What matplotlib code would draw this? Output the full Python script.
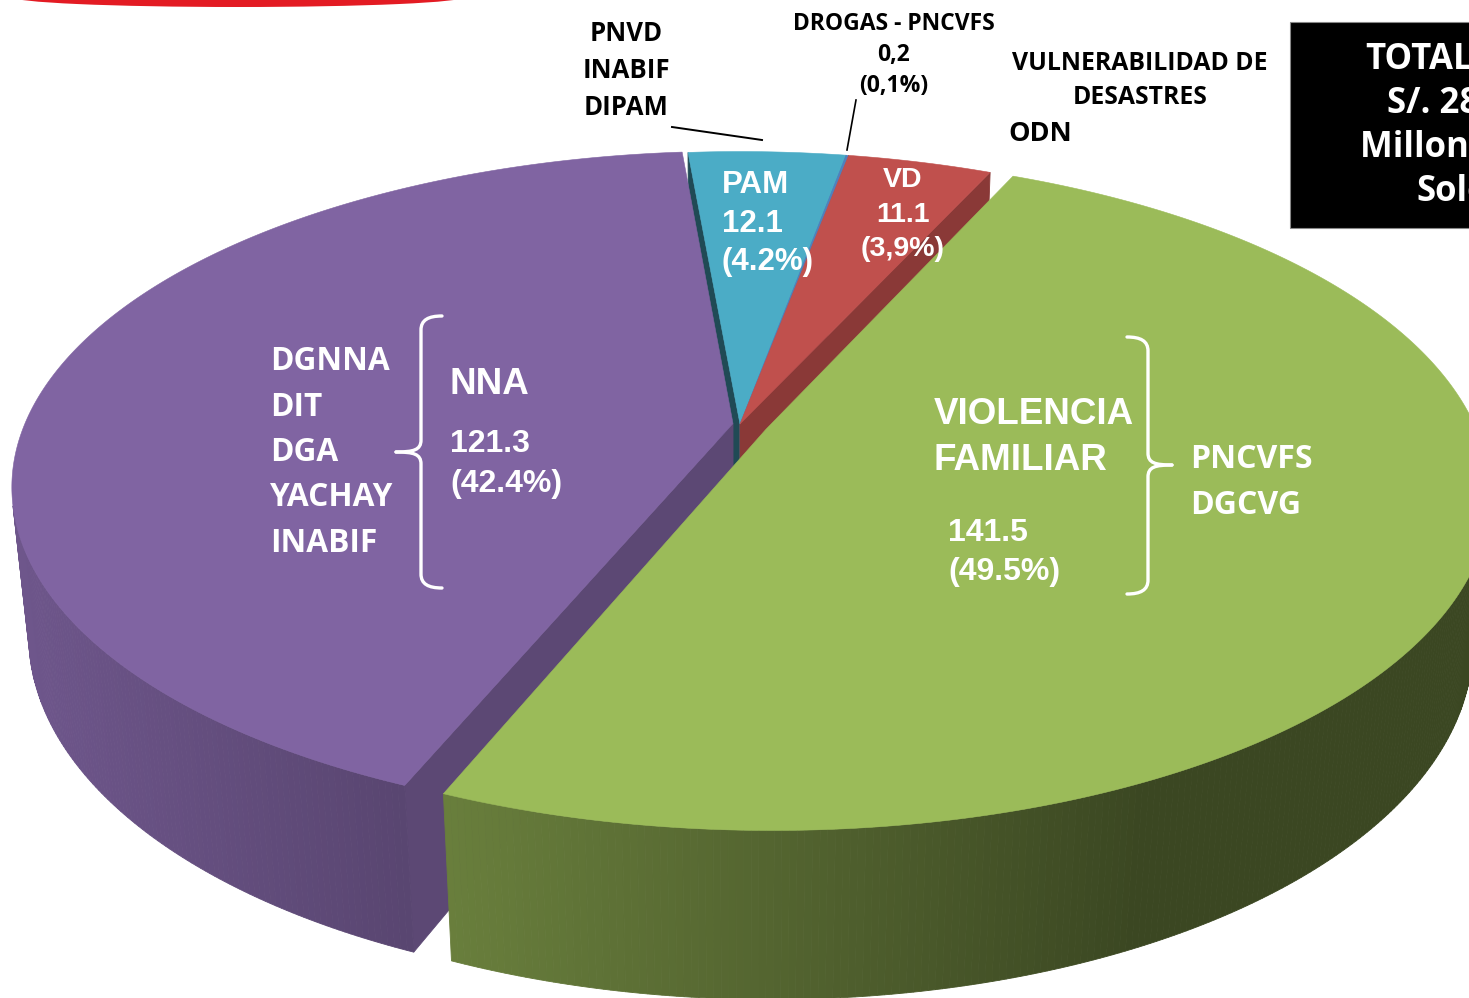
import numpy as np
import matplotlib
matplotlib.use("Agg")
import matplotlib.pyplot as plt
from matplotlib.patches import Polygon, Ellipse, Rectangle, PathPatch
from matplotlib.path import Path
from matplotlib.colors import to_rgb

# data (order = clockwise, NNA ends where PAM begins)
names = ["NNA", "PAM", "DROGAS - PNCVFS", "VD", "VIOLENCIA\nFAMILIAR"]
values = [121.3, 12.1, 0.2, 11.1, 141.5]
pct_labels = ["(42.4%)", "(4.2%)", "(0,1%)", "(3,9%)", "(49.5%)"]
val_labels = ["121.3", "12.1", "0,2", "11.1", "141.5"]
colors = ["#8064A2", "#4BACC6", "#4F81BD", "#C0504D", "#9BBB59"]
explode = [0.01, 0.0, 0.0, 0.0, 0.04]
nna_units = ["DGNNA", "DIT", "DGA", "YACHAY", "INABIF"]
vf_units = ["PNCVFS", "DGCVG"]
pam_units = ["PNVD", "INABIF", "DIPAM"]
total_lines = ["TOTAL", "S/. 286.2", "Millones de", "Soles"]

W, H = 1469, 998
cx, cy = 740, 424
first_angle = -5.0          # where PAM starts, degrees clockwise from the back

# camera for the 3d look
R = 4.73
sin_el = 0.457
h = R * sin_el
L = R * np.sqrt(1 - sin_el ** 2)
f = 3350
T = 0.238


def project(X, Y, Z):
    depth = (-(Y - h) * h + (Z + L) * L) / R
    yc = (Y * L + Z * h) / R
    return cx + f * X / depth, cy - f * yc / depth, depth


def shoelace(pts):
    x, y = pts[:, 0], pts[:, 1]
    return np.sum(x * np.roll(y, -1) - np.roll(x, -1) * y)


def shade(c, k):
    return tuple(np.clip(np.array(to_rgb(c)) * k, 0, 1))


fig = plt.figure(figsize=(W / 100, H / 100), dpi=100)
ax = fig.add_axes([0, 0, 1, 1])
ax.set_xlim(0, W)
ax.set_ylim(H, 0)
ax.axis("off")

total = sum(values)
spans = np.array(values) / total * 360
starts = first_angle - spans[0] + np.concatenate([[0], np.cumsum(spans)[:-1]])

sides = []
tops = []
for i, v in enumerate(values):
    t0, t1 = starts[i], starts[i] + spans[i]
    mid = np.radians((t0 + t1) / 2)
    ox, oz = explode[i] * np.sin(mid), explode[i] * np.cos(mid)
    th = np.radians(np.linspace(t0, t1, max(2, int(spans[i] / 0.5) + 1)))
    X = ox + np.sin(th)
    Z = oz + np.cos(th)
    tx, ty, td = project(X, 0, Z)
    bx, by, bd = project(X, -T, Z)
    ax_t = project(ox, 0, oz)
    ax_b = project(ox, -T, oz)

    tops.append((np.column_stack([np.r_[ax_t[0], tx], np.r_[ax_t[1], ty]]), colors[i]))

    # outer wall, strip by strip
    for j in range(len(th) - 1):
        quad = np.array([[tx[j + 1], ty[j + 1]], [tx[j], ty[j]],
                         [bx[j], by[j]], [bx[j + 1], by[j + 1]]])
        if shoelace(quad) <= 0:
            continue
        k = np.clip(0.87 - 0.00043 * quad[:, 0].mean(), 0.38, 0.9)
        d = (td[j] + td[j + 1] + bd[j] + bd[j + 1]) / 4
        sides.append((d, quad, shade(colors[i], k)))

    # radial faces
    a0, a1 = th[0], th[-1]
    face0 = np.array([[ax_t[0], ax_t[1]], [ax_b[0], ax_b[1]], [bx[0], by[0]], [tx[0], ty[0]]])
    face1 = np.array([[ax_t[0], ax_t[1]], [tx[-1], ty[-1]], [bx[-1], by[-1]], [ax_b[0], ax_b[1]]])
    for face, nx, dd in [(face0, -np.cos(a0), (ax_t[2] + td[0]) / 2),
                         (face1, np.cos(a1), (ax_t[2] + td[-1]) / 2)]:
        if shoelace(face) > 0:
            sides.append((dd, face, shade(colors[i], 0.58 + 0.15 * nx)))

for d, poly, c in sorted(sides, key=lambda s: -s[0]):
    ax.add_patch(Polygon(poly, closed=True, facecolor=c, edgecolor=c, lw=0.6))
for poly, c in tops:
    ax.add_patch(Polygon(poly, closed=True, facecolor=c, edgecolor=c, lw=0.4))

# red header arc and the total box
ax.add_patch(Ellipse((238, -3), 452, 20, facecolor="#E31B23", edgecolor="none"))
ax.add_patch(Rectangle((1290, 22), 200, 206, facecolor="black", edgecolor="#888888", lw=0.8))

sans = "Open Sans"
arial = "Liberation Sans"


def stack(x, y0, step, lines, ha="left", **kw):
    for n, s in enumerate(lines):
        ax.text(x, y0 + n * step, s, ha=ha, va="center", fontweight="bold", **kw)


# black labels over the pie
stack(626, 33, 37, pam_units, ha="center", family=sans, fontsize=18.5, color="black")
stack(894, 24, 31, [names[2], val_labels[2], pct_labels[2]], ha="center",
      family=sans, fontsize=16.5, color="black")
stack(1140, 63, 34, ["VULNERABILIDAD DE", "DESASTRES"], ha="center",
      family=sans, fontsize=17.8, color="black")
stack(1008, 134, 0, ["ODN"], family=sans, fontsize=19.5, color="black")
ax.plot([672, 762], [127, 140], color="black", lw=1.4)
ax.plot([856, 847], [100, 150], color="black", lw=1.2)

# white labels on the slices
stack(722, 185, 38.5, [names[1], val_labels[1], pct_labels[1]], family=arial,
      fontsize=22.5, color="white")
stack(903, 180, 34.5, [names[3], val_labels[3], pct_labels[3]], ha="center",
      family=arial, fontsize=20.5, color="white")
stack(270, 362, 45.3, nna_units, family=sans, fontsize=22.8, color="white")
stack(450, 384, 0, [names[0]], family=arial, fontsize=26.5, color="white")
stack(450, 444, 40, [val_labels[0], pct_labels[0]], family=arial, fontsize=23, color="white")
stack(934, 414, 46, names[4].split("\n"), family=arial, fontsize=26.5, color="white")
stack(948, 533, 39, [val_labels[4], pct_labels[4]], family=arial, fontsize=23, color="white")
stack(1190, 460, 45, vf_units, family=sans, fontsize=23, color="white")

# box text, cut by the right edge as in the slide
for s, x0, y0 in zip(total_lines, [1365, 1387, 1360, 1416], [60, 104, 148, 192]):
    ax.text(x0, y0, s, ha="left", va="center", fontweight="bold", family=sans,
            fontsize=25, color="white")

# braces
C, Lt = Path.CURVE4, Path.LINETO


def brace(xe, xv, xt, ytop, ymid, ybot):
    r = 14
    up = [(xe, ytop), (xv + (xe - xv) * 0.35, ytop), (xv, ytop + 4), (xv, ytop + r),
          (xv, ymid - 12), (xv, ymid - 2), (xv + (xt - xv) * 0.3, ymid), (xt, ymid)]
    lo = [(xt, ymid), (xv + (xt - xv) * 0.3, ymid), (xv, ymid + 2), (xv, ymid + 12),
          (xv, ybot - r), (xv, ybot - 4), (xv + (xe - xv) * 0.35, ybot), (xe, ybot)]
    codes = [Path.MOVETO, C, C, C, Lt, C, C, C]
    for pts in (up, lo):
        ax.add_patch(PathPatch(Path(pts, codes), facecolor="none", edgecolor="white",
                               lw=2.4, capstyle="round"))


brace(442, 421, 396, 316, 452, 588)
brace(1127, 1148, 1172, 337, 465, 594)

fig.savefig("out.png", dpi=100)
